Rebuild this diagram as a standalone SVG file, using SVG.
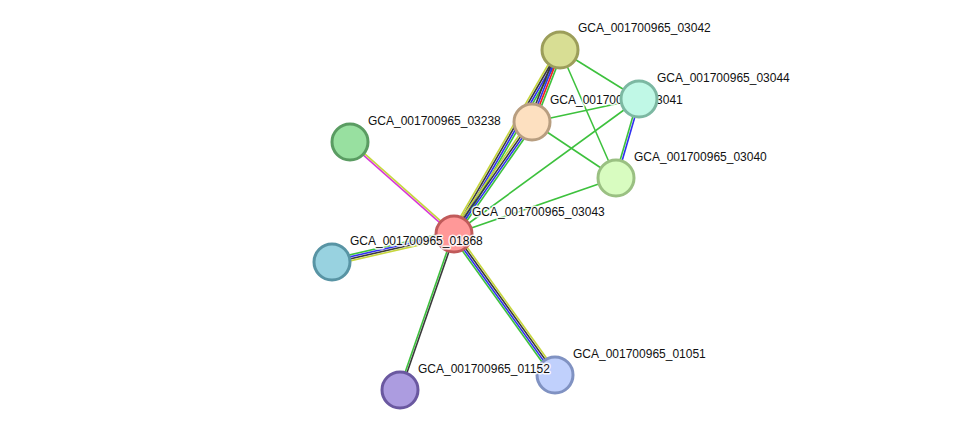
<svg xmlns="http://www.w3.org/2000/svg" width="975" height="436" viewBox="0 0 975 436">
<style>
.e line{stroke-width:1.6;fill:none}
.g{stroke:#3dc13d}.y{stroke:#c6d63c}.k{stroke:#3a3a3a}.b{stroke:#3030f0}.r{stroke:#f02020}.m{stroke:#d838d8}
.n circle{stroke-width:3}
.n text{font-family:"Liberation Sans",Arial,sans-serif;font-size:12px;fill:#111;stroke:#fff;stroke-width:3px;stroke-opacity:0.85;paint-order:stroke;stroke-linejoin:round}
</style>
<rect width="975" height="436" fill="#fff"/>
<g id="edges" class="e">
<line class="g" x1="454" y1="234" x2="616" y2="178"/>
<line class="g" x1="454" y1="234" x2="639" y2="99"/>
<line class="g" x1="560" y1="50" x2="639" y2="99"/>
<line class="g" x1="560" y1="50" x2="616" y2="178"/>
<line class="g" x1="532" y1="122" x2="639" y2="99"/>
<line class="g" x1="532" y1="122" x2="616" y2="178"/>
<line class="g" x1="638" y1="98.7" x2="615" y2="177.7"/>
<line class="b" x1="640" y1="99.3" x2="617" y2="178.3"/>
<line class="y" x1="451.4" y1="232.5" x2="557.4" y2="48.5"/>
<line class="k" x1="453.1" y1="233.5" x2="559.1" y2="49.5"/>
<line class="b" x1="454.9" y1="234.5" x2="560.9" y2="50.5"/>
<line class="g" x1="456.6" y1="235.5" x2="562.6" y2="51.5"/>
<line class="y" x1="451.5" y1="232.3" x2="529.5" y2="120.3"/>
<line class="k" x1="453.2" y1="233.4" x2="531.2" y2="121.4"/>
<line class="b" x1="454.8" y1="234.6" x2="532.8" y2="122.6"/>
<line class="g" x1="456.5" y1="235.7" x2="534.5" y2="123.7"/>
<line class="k" x1="529.2" y1="120.9" x2="557.2" y2="48.9"/>
<line class="b" x1="531.1" y1="121.6" x2="559.1" y2="49.6"/>
<line class="r" x1="532.9" y1="122.4" x2="560.9" y2="50.4"/>
<line class="g" x1="534.8" y1="123.1" x2="562.8" y2="51.1"/>
<line class="m" x1="453.3" y1="234.7" x2="349.3" y2="142.7"/>
<line class="y" x1="454.7" y1="233.3" x2="350.7" y2="141.3"/>
<line class="g" x1="453.3" y1="231.1" x2="331.3" y2="259.1"/>
<line class="b" x1="453.8" y1="233" x2="331.8" y2="261"/>
<line class="k" x1="454.2" y1="235" x2="332.2" y2="263"/>
<line class="y" x1="454.7" y1="236.9" x2="332.7" y2="264.9"/>
<line class="g" x1="453.1" y1="233.7" x2="399.1" y2="389.7"/>
<line class="k" x1="454.9" y1="234.3" x2="400.9" y2="390.3"/>
<line class="g" x1="451.6" y1="235.7" x2="552.6" y2="376.7"/>
<line class="b" x1="453.2" y1="234.6" x2="554.2" y2="375.6"/>
<line class="k" x1="454.8" y1="233.4" x2="555.8" y2="374.4"/>
<line class="y" x1="456.4" y1="232.3" x2="557.4" y2="373.3"/>
</g>
<g id="n03238" class="n"><circle cx="350" cy="142" r="18" fill="#98e0a0" stroke="#5a9c62"/><text x="368" y="125">GCA_001700965_03238</text></g>
<g id="n03043" class="n"><circle cx="454" cy="234" r="18" fill="#ff9898" stroke="#c05a5a"/><text x="472" y="216">GCA_001700965_03043</text></g>
<g id="n01868" class="n"><circle cx="332" cy="262" r="18" fill="#98d2e0" stroke="#5894a4"/><text x="350" y="245">GCA_001700965_01868</text></g>
<g id="n03042" class="n"><circle cx="560" cy="50" r="18" fill="#d8de94" stroke="#9c9e5a"/><text x="578" y="32">GCA_001700965_03042</text></g>
<g id="n03041" class="n"><circle cx="532" cy="122" r="18" fill="#fde0c0" stroke="#b89e80"/><text x="550" y="104">GCA_001700965_03041</text></g>
<g id="n03044" class="n"><circle cx="639" cy="99" r="18" fill="#c0f8e6" stroke="#7cb8a2"/><text x="657" y="82">GCA_001700965_03044</text></g>
<g id="n03040" class="n"><circle cx="616" cy="178" r="18" fill="#d8fcc0" stroke="#9ac082"/><text x="634" y="161">GCA_001700965_03040</text></g>
<g id="n01051" class="n"><circle cx="555" cy="375" r="18" fill="#c0d0fc" stroke="#8092c2"/><text x="573" y="358">GCA_001700965_01051</text></g>
<g id="n01152" class="n"><circle cx="400" cy="390" r="18" fill="#ac9ce0" stroke="#6a58a0"/><text x="418" y="373">GCA_001700965_01152</text></g>
</svg>
